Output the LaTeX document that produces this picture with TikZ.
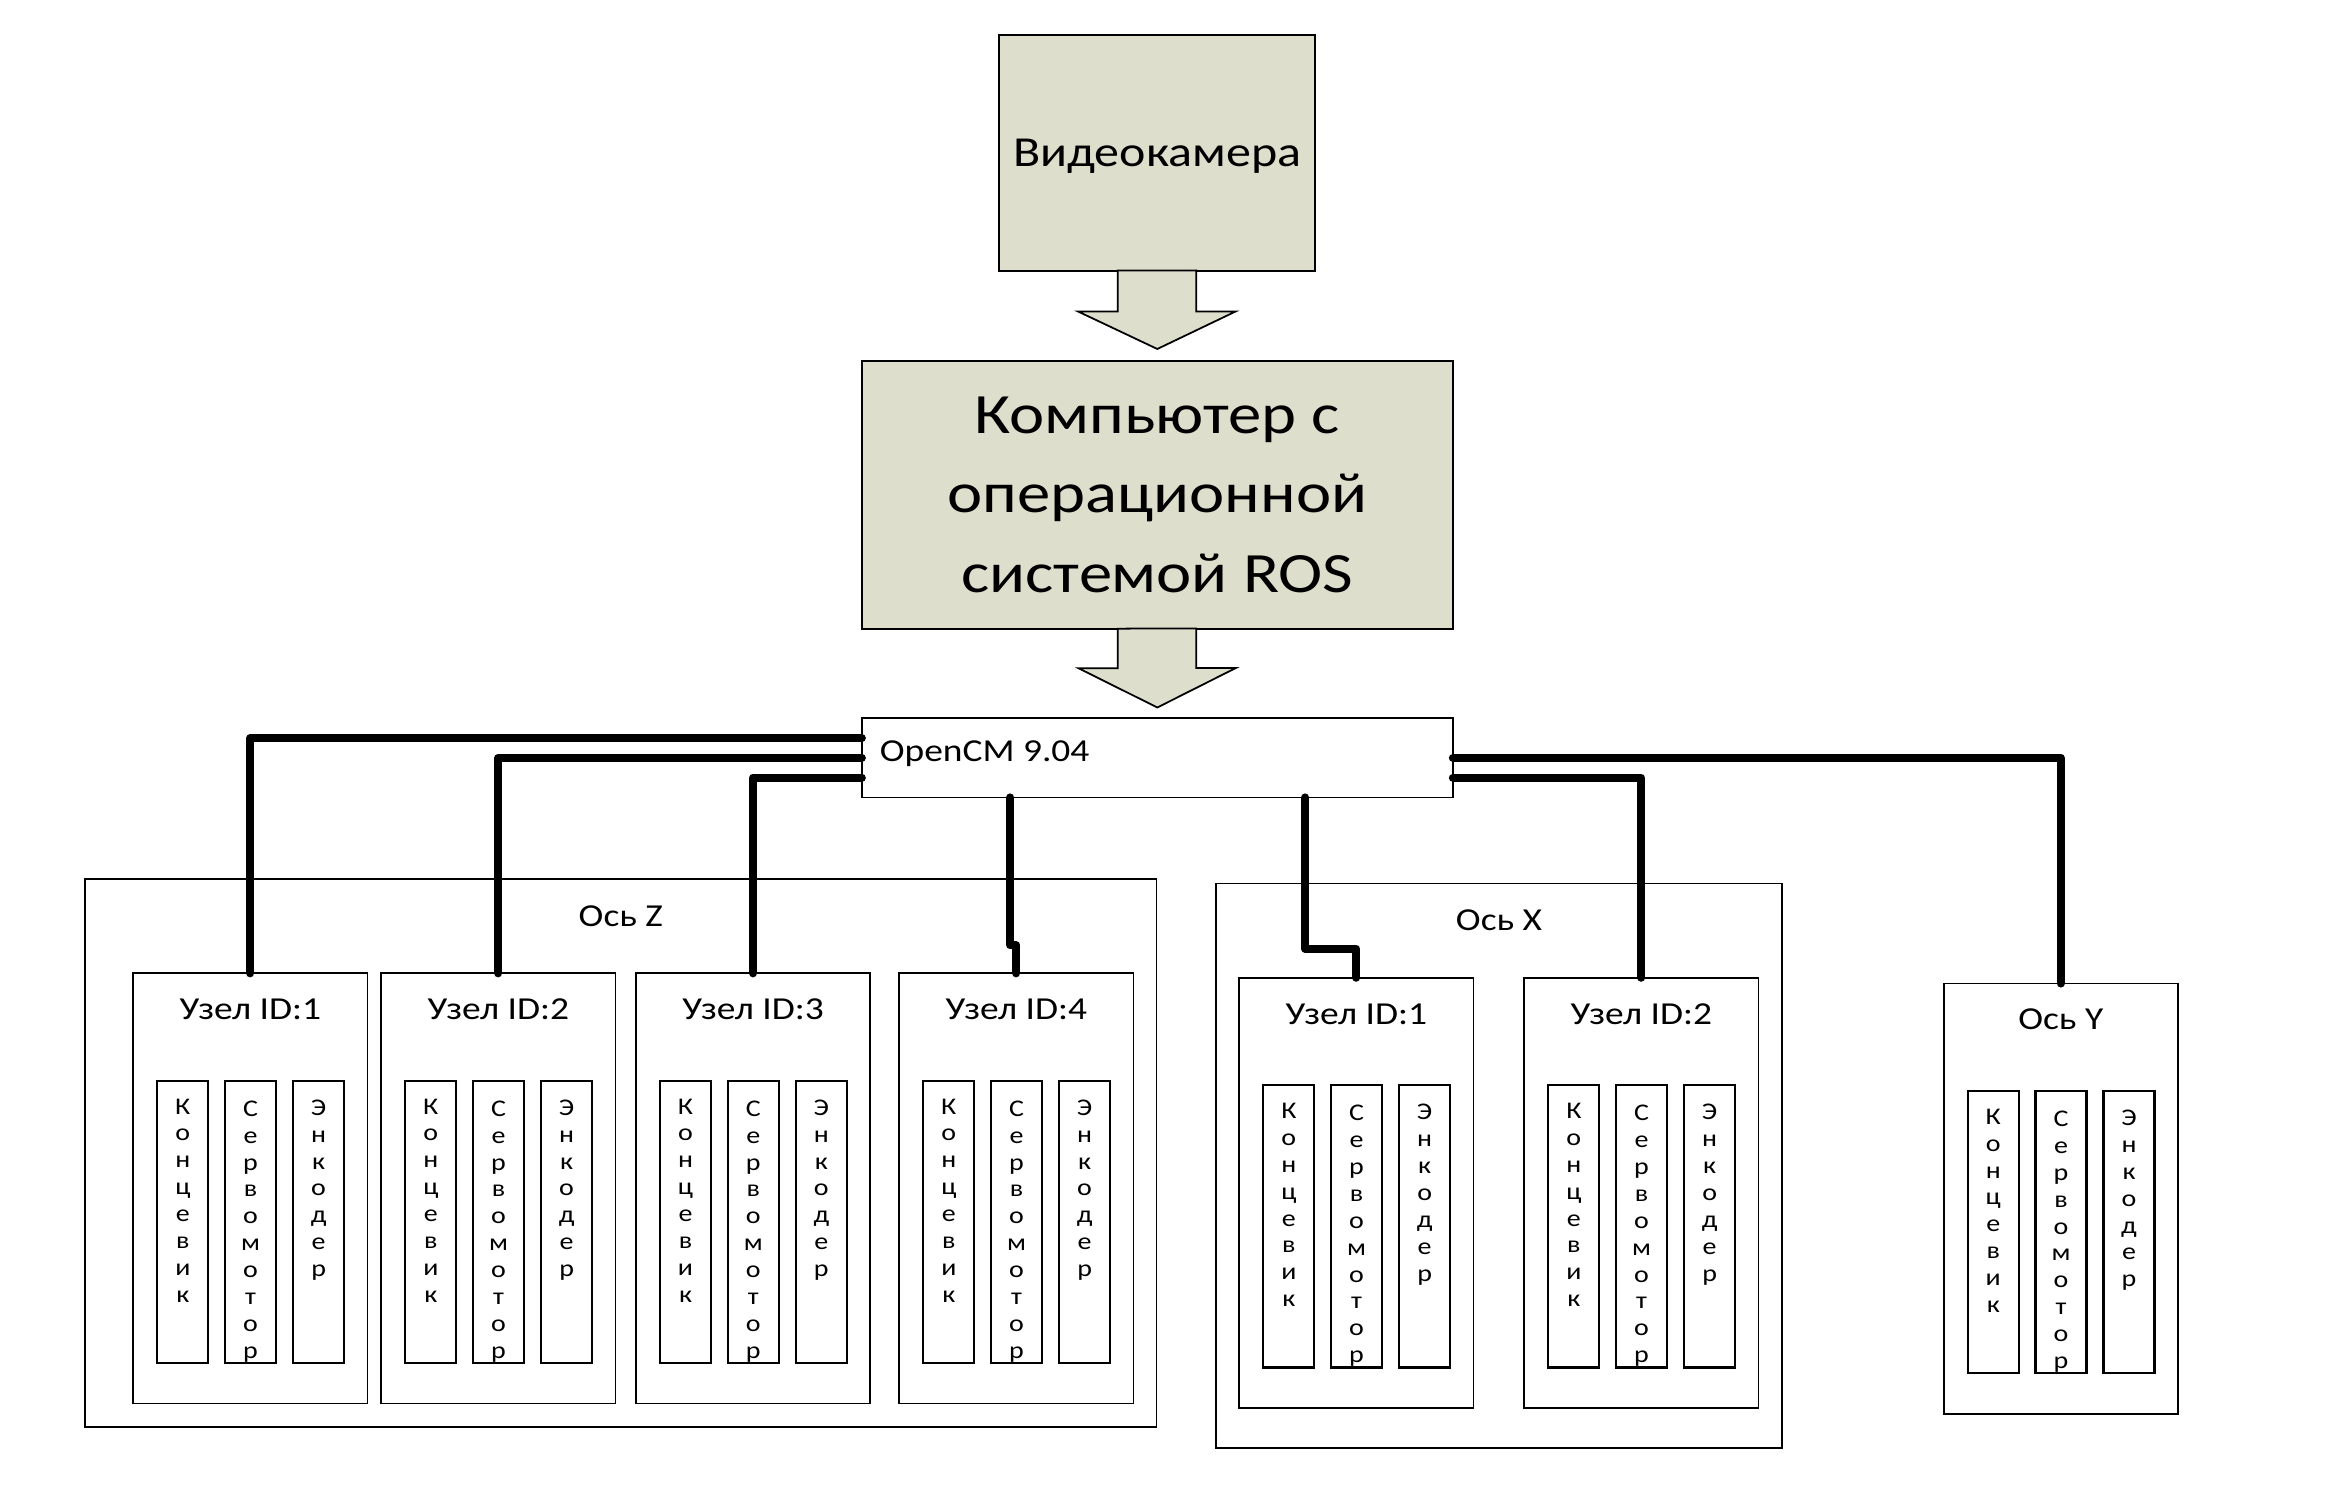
\documentclass[tikz,border=0pt]{standalone}
\usepackage{fontspec}
\setmainfont{Carlito}[FakeStretch=1.17]
\usetikzlibrary{positioning}
\definecolor{boxFill}{RGB}{221,223,204}

\begin{document}
\begin{tikzpicture}[%
    x=0.01cm,
    y=-0.01cm,
    outer sep=0pt,
    block/.style={%
        draw,
        fill=boxFill,
        line width=0.6pt,
        inner sep=0pt
    },
    bus/.style={%
        draw,
        line width=0.5pt,
        minimum width=5.907cm,
        minimum height=0.791cm,
        inner sep=0pt
    },
    axis/.style={%
        draw,
        line width=0.45pt,
        anchor=north west,
        inner sep=0pt
    },
    unit/.style={%
        draw,
        line width=0.5pt,
        anchor=north west,
        minimum width=2.34cm,
        minimum height=4.30cm,
        inner sep=0pt
    },
    part/.style={%
        draw,
        line width=0.6pt,
        minimum width=0.51cm,
        minimum height=2.823cm,
        inner sep=0pt
    },
    caption/.style={%
        anchor=base,
        inner sep=0pt,
        font=\fontsize{9.1}{11}\selectfont
    },
    letters/.style={%
        anchor=north,
        inner sep=0pt,
        align=center,
        font=\fontsize{6.8}{7.65}\selectfont
    },
    wire/.style={%
        line width=2.3pt,
        line cap=round,
        line join=round
    },
    fatArrow/.style={%
        draw,
        fill=boxFill,
        line width=0.5pt
    }
]
\useasboundingbox (0,0) rectangle (2336,1496);

% Camera and computer
    \node[block, minimum width=3.155cm, minimum height=2.355cm, text depth=0pt, font=\fontsize{12.15}{14}\selectfont] (camera) at (1157.25,152.75) {Видеокамера};
    \node[block, minimum width=5.906cm, minimum height=2.675cm, align=center, font=\fontsize{16.2}{22.7}\selectfont] (computer) at (1157.3,494.8) {Компьютер с\\операционной\\системой ROS};

% Controller
    \node[bus] (openCM) at (1157.35,757.85) {};
    \node[caption, anchor=base west] (openCMText) at ([xshift=0.18cm,yshift=-0.039cm]openCM.west) {OpenCM 9.04};

% Axis Z
    \node[axis, minimum width=10.71cm, minimum height=5.477cm] (axisZ) at (85,879) {};
    \node[caption] (axisZText) at ([yshift=-0.47cm]axisZ.north) {Ось Z};

    \node[unit] (nodeZ1) at (133.3,973.3) {};
    \node[caption] (labelZ1) at ([yshift=-0.465cm]nodeZ1.north) {Узел ID:1};
    \node[part, below right=1.073cm and 0.24cm of nodeZ1.north west] (switchZ1) {};
    \node[part, right=0.167cm of switchZ1] (servoZ1) {};
    \node[part, right=0.17cm of servoZ1] (encoderZ1) {};
    \node[letters, below=0.18cm of switchZ1.north] (switchZ1Text) {К\\о\\н\\ц\\е\\в\\и\\к};
    \node[letters, below=0.2cm of servoZ1.north] (servoZ1Text) {С\\е\\р\\в\\о\\м\\о\\т\\о\\р};
    \node[letters, below=0.19cm of encoderZ1.north] (encoderZ1Text) {Э\\н\\к\\о\\д\\е\\р};

    \node[unit] (nodeZ2) at (381.3,973.3) {};
    \node[caption] (labelZ2) at ([yshift=-0.465cm]nodeZ2.north) {Узел ID:2};
    \node[part, below right=1.073cm and 0.24cm of nodeZ2.north west] (switchZ2) {};
    \node[part, right=0.167cm of switchZ2] (servoZ2) {};
    \node[part, right=0.17cm of servoZ2] (encoderZ2) {};
    \node[letters, below=0.18cm of switchZ2.north] (switchZ2Text) {К\\о\\н\\ц\\е\\в\\и\\к};
    \node[letters, below=0.2cm of servoZ2.north] (servoZ2Text) {С\\е\\р\\в\\о\\м\\о\\т\\о\\р};
    \node[letters, below=0.19cm of encoderZ2.north] (encoderZ2Text) {Э\\н\\к\\о\\д\\е\\р};

    \node[unit] (nodeZ3) at (636,973.3) {};
    \node[caption] (labelZ3) at ([yshift=-0.465cm]nodeZ3.north) {Узел ID:3};
    \node[part, below right=1.073cm and 0.24cm of nodeZ3.north west] (switchZ3) {};
    \node[part, right=0.167cm of switchZ3] (servoZ3) {};
    \node[part, right=0.17cm of servoZ3] (encoderZ3) {};
    \node[letters, below=0.18cm of switchZ3.north] (switchZ3Text) {К\\о\\н\\ц\\е\\в\\и\\к};
    \node[letters, below=0.2cm of servoZ3.north] (servoZ3Text) {С\\е\\р\\в\\о\\м\\о\\т\\о\\р};
    \node[letters, below=0.19cm of encoderZ3.north] (encoderZ3Text) {Э\\н\\к\\о\\д\\е\\р};

    \node[unit] (nodeZ4) at (899.3,973.3) {};
    \node[caption] (labelZ4) at ([yshift=-0.465cm]nodeZ4.north) {Узел ID:4};
    \node[part, below right=1.073cm and 0.24cm of nodeZ4.north west] (switchZ4) {};
    \node[part, right=0.167cm of switchZ4] (servoZ4) {};
    \node[part, right=0.17cm of servoZ4] (encoderZ4) {};
    \node[letters, below=0.18cm of switchZ4.north] (switchZ4Text) {К\\о\\н\\ц\\е\\в\\и\\к};
    \node[letters, below=0.2cm of servoZ4.north] (servoZ4Text) {С\\е\\р\\в\\о\\м\\о\\т\\о\\р};
    \node[letters, below=0.19cm of encoderZ4.north] (encoderZ4Text) {Э\\н\\к\\о\\д\\е\\р};

% Axis X
    \node[axis, minimum width=5.657cm, minimum height=5.644cm] (axisX) at (1216,883.3) {};
    \node[caption] (axisXText) at ([yshift=-0.467cm]axisX.north) {Ось X};

    \node[unit] (nodeX1) at (1239.3,977.7) {};
    \node[caption] (labelX1) at ([yshift=-0.465cm]nodeX1.north) {Узел ID:1};
    \node[part, below right=1.073cm and 0.24cm of nodeX1.north west] (switchX1) {};
    \node[part, right=0.167cm of switchX1] (servoX1) {};
    \node[part, right=0.17cm of servoX1] (encoderX1) {};
    \node[letters, below=0.18cm of switchX1.north] (switchX1Text) {К\\о\\н\\ц\\е\\в\\и\\к};
    \node[letters, below=0.2cm of servoX1.north] (servoX1Text) {С\\е\\р\\в\\о\\м\\о\\т\\о\\р};
    \node[letters, below=0.19cm of encoderX1.north] (encoderX1Text) {Э\\н\\к\\о\\д\\е\\р};

    \node[unit] (nodeX2) at (1524.3,977.7) {};
    \node[caption] (labelX2) at ([yshift=-0.465cm]nodeX2.north) {Узел ID:2};
    \node[part, below right=1.073cm and 0.24cm of nodeX2.north west] (switchX2) {};
    \node[part, right=0.167cm of switchX2] (servoX2) {};
    \node[part, right=0.17cm of servoX2] (encoderX2) {};
    \node[letters, below=0.18cm of switchX2.north] (switchX2Text) {К\\о\\н\\ц\\е\\в\\и\\к};
    \node[letters, below=0.2cm of servoX2.north] (servoX2Text) {С\\е\\р\\в\\о\\м\\о\\т\\о\\р};
    \node[letters, below=0.19cm of encoderX2.north] (encoderX2Text) {Э\\н\\к\\о\\д\\е\\р};

% Axis Y
    \node[unit] (axisY) at (1943.7,983.5) {};
    \node[caption] (axisYText) at ([yshift=-0.46cm]axisY.north) {Ось Y};
    \node[part, below right=1.073cm and 0.24cm of axisY.north west] (switchY) {};
    \node[part, right=0.167cm of switchY] (servoY) {};
    \node[part, right=0.17cm of servoY] (encoderY) {};
    \node[letters, below=0.18cm of switchY.north] (switchYText) {К\\о\\н\\ц\\е\\в\\и\\к};
    \node[letters, below=0.2cm of servoY.north] (servoYText) {С\\е\\р\\в\\о\\м\\о\\т\\о\\р};
    \node[letters, below=0.19cm of encoderY.north] (encoderYText) {Э\\н\\к\\о\\д\\е\\р};

% Arrows
\draw[fatArrow] ([xshift=-0.395cm]camera.south) -- ++(0,41) -- ++(-39.5,0) -- ([yshift=0.12cm]computer.north) -- ++(78.5,-37.6) -- ++(-39.5,0) -- ++(0,-41) -- cycle;
\draw[fatArrow] ([xshift=-0.395cm]computer.south) -- ++(0,39.5) -- ++(-39.5,0) -- ([yshift=0.108cm]openCM.north) -- ++(78.5,-39.5) -- ++(-39.5,0) -- ++(0,-39.5) -- cycle;

% Wires
\draw[wire] ([yshift=0.197cm]openCM.west) -| (nodeZ1.north);
\draw[wire] (openCM.west) -| (nodeZ2.north);
\draw[wire] ([yshift=-0.197cm]openCM.west) -| (nodeZ3.north);
\draw[wire] ([xshift=-0.06cm]openCM.south -| nodeZ4.north) |- ([yshift=0.28cm]nodeZ4.north) -- (nodeZ4.north);

\draw[wire] ([xshift=-0.51cm]openCM.south -| nodeX1.north) |- ([yshift=0.29cm]nodeX1.north) -- (nodeX1.north);
\draw[wire] ([yshift=-0.197cm]openCM.east) -| (nodeX2.north);

\draw[wire] (openCM.east) -| (axisY.north);

\end{tikzpicture}
\end{document}
